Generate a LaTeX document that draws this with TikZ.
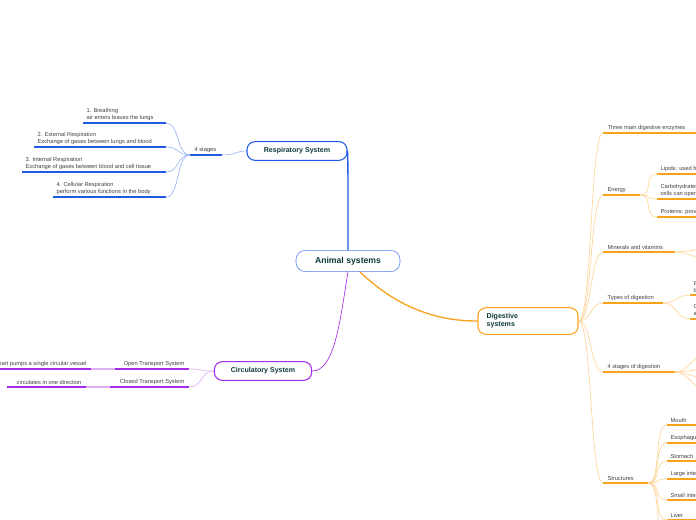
\documentclass[tikz,border=0pt]{standalone}
\usepackage{fontspec}
\setmainfont{Liberation Sans}
\usetikzlibrary{positioning,calc}
\definecolor{resp}{HTML}{1F5BE6}
\definecolor{respl}{HTML}{9DB6F2}
\definecolor{circ}{HTML}{A52CE8}
\definecolor{circl}{HTML}{DDB0F5}
\definecolor{dig}{HTML}{F9A21C}
\definecolor{digl}{HTML}{FDD59A}
\definecolor{titletxt}{HTML}{0E3B3B}
\begin{document}
\begin{tikzpicture}[x=0.75pt,y=-0.75pt]
  \tikzstyle{main} = [rectangle, rounded corners=7pt, draw=resp!80, fill=white, minimum width=78pt, minimum height=16pt, font=\fontsize{6.5}{7}\selectfont\bfseries, text=titletxt]
  \tikzstyle{sys} = [rectangle, rounded corners=6pt, thick, fill=white, minimum height=14pt, font=\fontsize{5.3}{6}\selectfont\bfseries, text=titletxt]
  \tikzstyle{lbl} = [anchor=south west, inner sep=1pt, font=\fontsize{4.3}{4.9}\selectfont, text=black!75, align=left]
  \tikzstyle{uline} = [line width=1.2pt]
  \tikzstyle{link} = [line width=.5pt]

  \useasboundingbox (0,0) rectangle (696,520);
  \clip (0,0) rectangle (696,520);

  \node (root) [main] at (348,261) {Animal systems};

  % respiratory
  \node (resp) [sys, draw=resp, minimum width=75pt] at (297,151) {Respiratory System};
  \draw [resp, line width=1pt] (resp.east) .. controls (348,151) and (348,200) .. (root.north);
  \coordinate (st-l) at (190,155); \coordinate (st-r) at (222,155);
  \draw [uline, resp] (st-l) -- (st-r);
  \node [lbl] at (193,154) {4 stages};
  \draw [link, respl] (st-r) .. controls (236,155) and (236,151) .. (resp.west);
  \foreach \i/\xa/\y/\txt in {1/83/123/{1. Breathing\\air enters leaves the lungs},
      2/34/147/{2. External Respiration\\Exchange of gases between lungs and blood},
      3/22/172/{3. Internal Respiration\\Exchange of gases between blood and cell tissue},
      4/53/197/{4. Cellular Respiration\\perform various functions in the body}} {
    \coordinate (rs\i-l) at (\xa,\y); \coordinate (rs\i-r) at (166,\y);
    \draw [uline, resp] (rs\i-l) -- (rs\i-r);
    \node [lbl] at (\xa+2,\y-1) {\txt};
    \draw [link, respl] (rs\i-r) .. controls (180,\y) and (176,155) .. (st-l);
  }

  % circulatory
  \node (circ) [sys, draw=circ, minimum width=73pt] at (263,371) {Circulatory System};
  \draw [circ, link] (root.south) .. controls (340,320) and (335,371) .. (circ.east);
  \foreach \i/\xa/\y/\txt/\xc/\ctxt in {1/115/369/{Open Transport System}/-30/{Heart pumps a single circular vessel},
      2/110/387/{Closed Transport System}/7/{circulates in one direction}} {
    \coordinate (ct\i-l) at (\xa,\y); \coordinate (ct\i-r) at (189,\y);
    \draw [uline, circ] (ct\i-l) -- (ct\i-r);
    \node [lbl, anchor=south east] at (186,\y-1) {\txt};
    \draw [link, circl] (ct\i-r) .. controls (203,\y) and (200,371) .. (circ.west);
    \coordinate (cc\i-l) at (\xc,\y); \coordinate (cc\i-r) at (\xa-24,\y);
    \draw [uline, circ] (cc\i-l) -- (cc\i-r);
    \draw [uline, circl] (cc\i-r) -- (ct\i-l);
    \node [lbl, anchor=south east] at (\xa-27,\y-1) {\ctxt};
  }

  % digestive
  \node (dig) [sys, draw=dig, minimum width=75pt, minimum height=20pt, text width=62pt, align=left] at (528,321) {Digestive\\systems};
  \draw [dig, line width=1pt] (360,272) .. controls (400,310) and (440,321) .. (dig.west);
  \foreach \n/\xb/\y/\txt in {enz/700/133/{Three main digestive enzymes},
      en/640/195/{Energy}, mv/675/252/{Minerals and vitamins},
      ty/663/303/{Types of digestion}, fs/675/372/{4 stages of digestion},
      str/648/483/{Structures}} {
    \coordinate (\n-l) at (603,\y); \coordinate (\n-r) at (\xb,\y);
    \draw [uline, dig] (\n-l) -- (\n-r);
    \node [lbl] at (606,\y-1) {\txt};
    \draw [link, digl] (dig.east) .. controls (592,321) and (590,\y) .. (\n-l);
  }
  % second level
  \foreach \p/\xa/\y/\txt in {en/657/174/{Lipids: used for long term energy},
      en/657/199/{Carbohydrates: quick energy source\\cells can operate},
      en/657/217/{Proteins: provide amino acids},
      mv/720/247/{}, mv/720/263/{},
      ty/690/295/{Physical digestion\\breaks food},
      ty/690/319/{Chemical digestion\\a enzymes},
      fs/720/342/{}, fs/720/367/{}, fs/720/383/{}, fs/720/402/{},
      str/667/425/{Mouth}, str/667/443/{Esophagus}, str/667/461/{Stomach},
      str/667/479/{Large intestine}, str/667/500/{Small intestine},
      str/667/520/{Liver}, str/667/540/{}} {
    \coordinate (c-l) at (\xa,\y);
    \draw [uline, dig] (c-l) -- (760,\y);
    \node [lbl] at (\xa+2,\y-1) {\txt};
    \draw [link, digl] (\p-r) .. controls ($(\p-r)+(14,0)$) and (\xa-14,\y) .. (c-l);
  }
\end{tikzpicture}
\end{document}
